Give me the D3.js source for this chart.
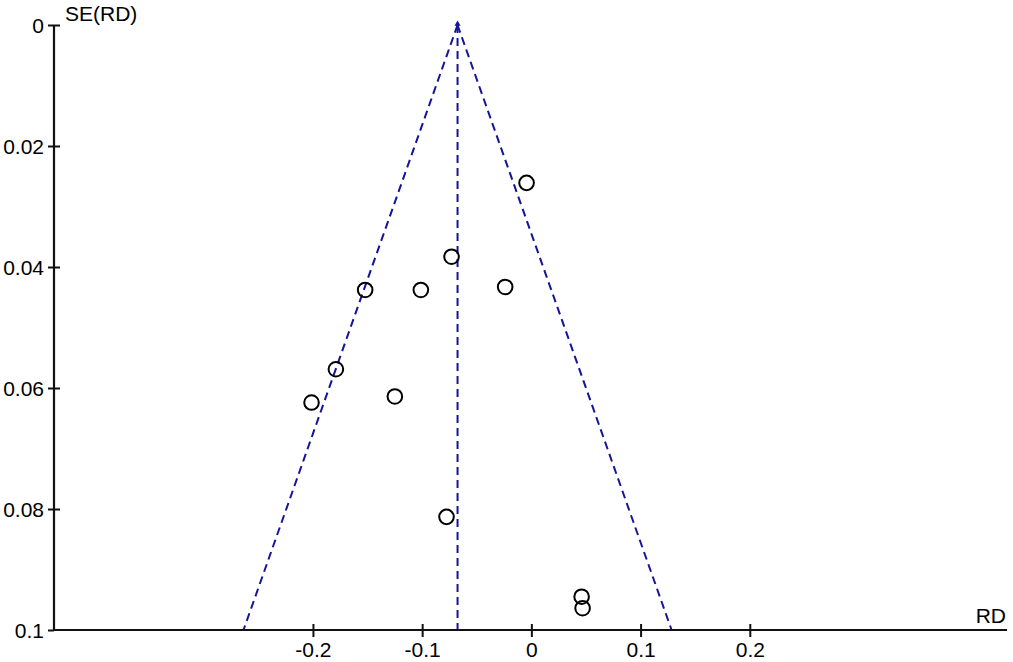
<!DOCTYPE html>
<html>
<head>
<meta charset="utf-8">
<script src="https://cdn.jsdelivr.net/npm/d3@7"></script>
<style>
  html, body { margin: 0; padding: 0; background: #fff; }
  svg text { font-family: "Liberation Sans", Arial, sans-serif; fill: #000; }
</style>
</head>
<body>
<svg id="chart" width="1013" height="662"></svg>
<script>
// Study risk differences (RD) and standard errors SE(RD)
const studyRD = [-0.0044, -0.0731, -0.1522, -0.1012, -0.0240, -0.1790, -0.2013, -0.1250, -0.0777, 0.0460, 0.0469];
const studySE = [0.0261, 0.0383, 0.0438, 0.0438, 0.0433, 0.0569, 0.0624, 0.0614, 0.0813, 0.0945, 0.0964];
const pooledRD = -0.0676;
const xTicks = [-0.2, -0.1, 0, 0.1, 0.2];
const yTicks = [0, 0.02, 0.04, 0.06, 0.08, 0.1];
const xLabel = "RD";
const yLabel = "SE(RD)";

const svg = d3.select("#chart");
const mLeft = 54, mRight = 1007, mTop = 25, mBottom = 630;
const x = d3.scaleLinear().domain([-0.4371, 0.4355]).range([mLeft, mRight]);
const y = d3.scaleLinear().domain([0, 0.1]).range([mTop, mBottom]);

const axisColor = "#111";
const funnelColor = "#14149a";
const fmt = d => String(+d.toFixed(3));
const fs = "21px";
const ff = "Liberation Sans, Arial, sans-serif";

// Funnel lines
const seMax = 0.1;
const funnel = [
  [[pooledRD, 0], [pooledRD - 1.96 * seMax, seMax]],
  [[pooledRD, 0], [pooledRD + 1.96 * seMax, seMax]],
  [[pooledRD, 0], [pooledRD, seMax]]
];
svg.append("g").selectAll("line").data(funnel).join("line")
  .attr("x1", d => x(d[0][0])).attr("y1", d => y(d[0][1]))
  .attr("x2", d => x(d[1][0])).attr("y2", d => y(d[1][1]))
  .attr("stroke", funnelColor).attr("stroke-width", 2)
  .attr("stroke-dasharray", "8,5");

// apex marker
svg.append("path")
  .attr("d", d3.symbol().type(d3.symbolTriangle).size(16))
  .attr("transform", `translate(${x(pooledRD)},${y(0) - 1})`)
  .attr("fill", funnelColor);

// Y axis
const yAxis = d3.axisLeft(y).tickValues(yTicks).tickSize(6).tickFormat(fmt);
const gy = svg.append("g").attr("transform", `translate(${mLeft},0)`).call(yAxis);
gy.attr("font-size", null).attr("font-family", null);
gy.select(".domain").remove();
gy.selectAll(".tick line").attr("x1", -6).attr("x2", d => (d === 0.1 ? 0 : 6))
  .attr("stroke", axisColor).attr("stroke-width", 2);
gy.selectAll(".tick text").attr("x", -10).attr("dy", "0.36em")
  .attr("font-size", fs).attr("font-family", ff).attr("fill", "#000");
svg.append("line").attr("x1", mLeft).attr("x2", mLeft).attr("y1", mTop).attr("y2", mBottom)
  .attr("stroke", axisColor).attr("stroke-width", 2.2);

// X axis
const xAxis = d3.axisBottom(x).tickValues(xTicks).tickSize(6).tickFormat(fmt);
const gx = svg.append("g").attr("transform", `translate(0,${mBottom})`).call(xAxis);
gx.attr("font-size", null).attr("font-family", null);
gx.select(".domain").remove();
gx.selectAll(".tick line").attr("y1", -6).attr("y2", 7)
  .attr("stroke", axisColor).attr("stroke-width", 2);
gx.selectAll(".tick text").attr("y", 12).attr("dy", "0.71em")
  .attr("font-size", fs).attr("font-family", ff).attr("fill", "#000");
svg.append("line").attr("x1", mLeft).attr("x2", mRight).attr("y1", mBottom).attr("y2", mBottom)
  .attr("stroke", axisColor).attr("stroke-width", 2.2);

// Axis titles
svg.append("text").attr("x", 65).attr("y", 21).attr("font-size", fs).attr("font-family", ff).text(yLabel);
svg.append("text").attr("x", 1006).attr("y", 623).attr("text-anchor", "end")
  .attr("font-size", fs).attr("font-family", ff).text(xLabel);

// Points
svg.append("g").selectAll("circle").data(studyRD.map((v, i) => [v, studySE[i]])).join("circle")
  .attr("cx", d => x(d[0])).attr("cy", d => y(d[1])).attr("r", 7.3)
  .attr("fill", "none").attr("stroke", "#000").attr("stroke-width", 2);
</script>
</body>
</html>
